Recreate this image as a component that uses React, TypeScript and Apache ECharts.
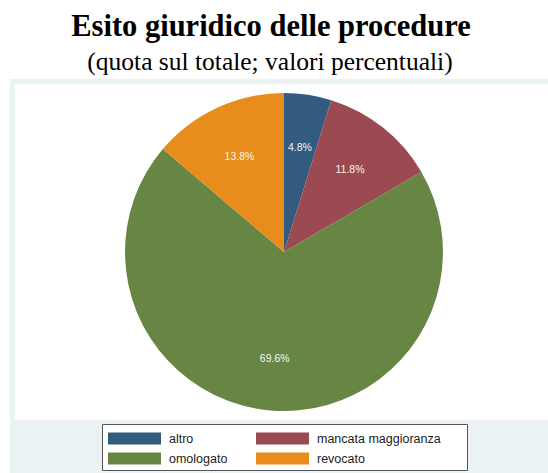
import React, { useEffect, useRef } from "react";
import * as echarts from "echarts";

const categories = ["altro", "mancata maggioranza", "omologato", "revocato"];
const values = [4.8, 11.8, 69.6, 13.8];
const colors = ["#335a7f", "#9b4a51", "#688643", "#e88c1b"];
const titleText = "Esito giuridico delle procedure";
const subtitleText = "(quota sul totale; valori percentuali)";

export default function App() {
  const ref = useRef<HTMLDivElement>(null);
  useEffect(() => {
    if (!ref.current) return;
    const chart = echarts.init(ref.current, undefined, { renderer: "svg" });
    const cx = 284;
    const cy = 252;
    const R = 159;
    chart.setOption({
      animation: false,
      color: colors,
      graphic: [
        { type: "rect", z: -10, shape: { x: 10, y: 79, width: 538, height: 394 }, style: { fill: "#eaf2f3" } },
        { type: "rect", z: -9, shape: { x: 15, y: 84, width: 533, height: 336 }, style: { fill: "#ffffff" } },
        { type: "rect", z: -8, shape: { x: 102.5, y: 424.5, width: 365, height: 46 }, style: { fill: "#ffffff", stroke: "#555555", lineWidth: 1 } },
        {
          type: "text", x: 271, y: 26,
          style: { text: titleText, font: "bold 30.5px 'Liberation Serif', 'Times New Roman', serif", fill: "#000", align: "center", verticalAlign: "middle" },
        },
        {
          type: "text", x: 270, y: 61,
          style: { text: subtitleText, font: "25.5px 'Liberation Serif', 'Times New Roman', serif", fill: "#000", align: "center", verticalAlign: "middle" },
        },
      ],
      legend: [
        {
          data: [categories[0], categories[2]],
          orient: "vertical", left: 108, top: 432, itemWidth: 53, itemHeight: 12, itemGap: 7,
          icon: "rect", selectedMode: false, padding: 0,
          textStyle: { fontFamily: "'Liberation Sans', Arial, sans-serif", fontSize: 12.5, color: "#222", padding: [0, 0, 0, 3] },
        },
        {
          data: [categories[1], categories[3]],
          orient: "vertical", left: 256, top: 432, itemWidth: 53, itemHeight: 12, itemGap: 7,
          icon: "rect", selectedMode: false, padding: 0,
          textStyle: { fontFamily: "'Liberation Sans', Arial, sans-serif", fontSize: 12.5, color: "#222", padding: [0, 0, 0, 3] },
        },
      ],
      series: [
        {
          type: "pie",
          center: [cx, cy],
          radius: [0, R],
          startAngle: 90,
          clockwise: true,
          label: { show: false },
          labelLine: { show: false },
          silent: true,
          itemStyle: { borderWidth: 0 },
          data: categories.map((c, i) => ({ name: c, value: values[i], itemStyle: { color: colors[i] } })),
        },
        {
          type: "pie",
          center: [cx, cy],
          radius: [47, R],
          startAngle: 90,
          clockwise: true,
          silent: true,
          itemStyle: { color: "rgba(0,0,0,0)", borderWidth: 0 },
          labelLine: { show: false },
          label: {
            show: true, position: "inside", color: "#f4f4f4",
            fontFamily: "'Liberation Sans', Arial, sans-serif", fontSize: 10.5,
            formatter: (p: any) => p.value.toFixed(1) + "%",
          },
          data: values.map((v) => ({ value: v })),
        },
      ],
    });
    return () => chart.dispose();
  }, []);
  return <div ref={ref} style={{ position: "absolute", left: 0, top: 0, width: 548, height: 473 }} />;
}
